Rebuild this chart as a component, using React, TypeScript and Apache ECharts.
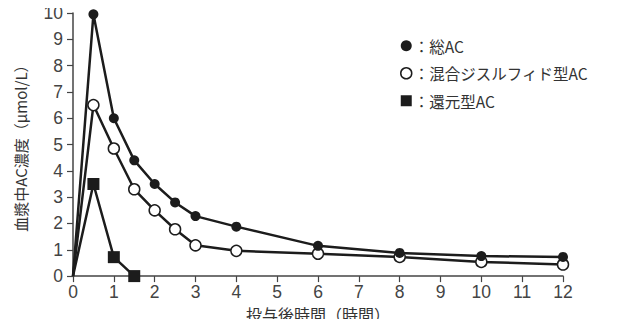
import React, { useEffect, useRef } from "react";
import * as echarts from "echarts";

const hours = [0, 0.5, 1, 1.5, 2, 2.5, 3, 4, 6, 8, 10, 12];
const totalAC = [0, 9.95, 6.0, 4.4, 3.5, 2.8, 2.28, 1.88, 1.15, 0.88, 0.76, 0.73];
const mixedAC = [0, 6.5, 4.85, 3.3, 2.5, 1.78, 1.17, 0.96, 0.85, 0.73, 0.54, 0.44];
const reducedHours = [0, 0.5, 1, 1.5];
const reducedAC = [0, 3.5, 0.72, 0];

const seriesNames = ["総AC", "混合ジスルフィド型AC", "還元型AC"];
const xAxisName = "投与後時間（時間）";
const yAxisName = "血漿中AC濃度（μmol/L）";

const FONT = "'Noto Sans CJK JP', 'Noto Sans', sans-serif";
const NUMFONT = "'Liberation Sans', Arial, sans-serif";
const INK = "#1c1c1c";

export default function App() {
  const ref = useRef<HTMLDivElement>(null);
  useEffect(() => {
    if (!ref.current) return;
    const chart = echarts.init(ref.current, undefined, { renderer: "svg" });
    const pair = (xs: number[], ys: number[]) => xs.map((x, i) => [x, ys[i]]);
    const noOrigin = (v: number[]) => (v[0] === 0 ? "none" : undefined);
    chart.setOption({
      animation: false,
      backgroundColor: "#ffffff",
      textStyle: { fontFamily: FONT },
      grid: { left: 73, right: 58, top: 13, bottom: 50 },
      legend: {
        orient: "vertical",
        left: 395,
        top: 33,
        itemGap: 12,
        itemWidth: 11,
        itemHeight: 11,
        selectedMode: false,
        textStyle: { fontFamily: FONT, fontSize: 15.5, color: "#333", padding: [0, 0, 0, -3] },
        formatter: (n: string) => "：" + n,
        data: [
          { name: seriesNames[0], icon: "circle", itemStyle: { color: INK, borderWidth: 0 } },
          { name: seriesNames[1], icon: "circle", itemStyle: { color: "#fff", borderColor: INK, borderWidth: 1.5 } },
          { name: seriesNames[2], icon: "rect", itemStyle: { color: INK, borderWidth: 0 } },
        ],
      },
      xAxis: {
        type: "value",
        min: 0,
        max: 12,
        interval: 1,
        name: xAxisName,
        nameLocation: "middle",
        nameGap: 26,
        nameTextStyle: { fontFamily: FONT, fontSize: 16, color: "#333" },
        axisLine: { show: true, lineStyle: { color: "#444", width: 1.5 } },
        axisTick: { show: true, inside: false, length: 6, lineStyle: { color: "#444", width: 1.2 } },
        axisLabel: { fontFamily: NUMFONT, fontSize: 17.5, color: "#444", margin: 7 },
        splitLine: { show: false },
      },
      yAxis: {
        type: "value",
        min: 0,
        max: 10,
        interval: 1,
        name: yAxisName,
        nameLocation: "middle",
        nameRotate: 90,
        nameGap: 45,
        nameTextStyle: { fontFamily: FONT, fontSize: 15, color: "#333" },
        axisLine: { show: true, lineStyle: { color: "#444", width: 1.5 } },
        axisTick: { show: true, inside: false, length: 6, lineStyle: { color: "#444", width: 1.2 } },
        axisLabel: { fontFamily: NUMFONT, fontSize: 17.5, color: "#444", margin: 10 },
        splitLine: { show: false },
      },
      series: [
        {
          name: seriesNames[2],
          type: "line",
          data: pair(reducedHours, reducedAC),
          symbol: (v: number[]) => noOrigin(v) ?? "rect",
          symbolSize: 12,
          showAllSymbol: true,
          lineStyle: { color: INK, width: 2.5 },
          itemStyle: { color: INK, borderWidth: 0 },
          z: 2,
        },
        {
          name: seriesNames[1],
          type: "line",
          data: pair(hours, mixedAC),
          symbol: (v: number[]) => noOrigin(v) ?? "circle",
          symbolSize: 11,
          showAllSymbol: true,
          lineStyle: { color: INK, width: 2.5 },
          itemStyle: { color: "#fff", borderColor: INK, borderWidth: 1.5 },
          z: 3,
        },
        {
          name: seriesNames[0],
          type: "line",
          data: pair(hours, totalAC),
          symbol: (v: number[]) => noOrigin(v) ?? "circle",
          symbolSize: 10,
          showAllSymbol: true,
          lineStyle: { color: INK, width: 2.5 },
          itemStyle: { color: INK, borderWidth: 0 },
          z: 4,
        },
      ],
    });
    return () => chart.dispose();
  }, []);
  return <div ref={ref} style={{ width: 621, height: 327, margin: -8 }} />;
}
